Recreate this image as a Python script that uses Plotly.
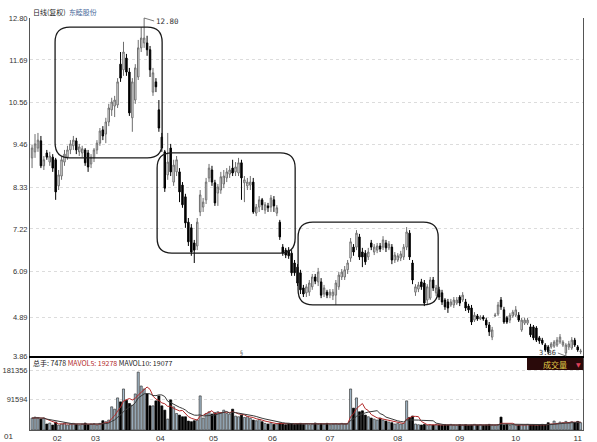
import plotly.graph_objects as go
import pandas as pd

# ---------------- data ----------------
open_ = [9.10, 9.26, 9.36, 9.55, 8.89, 9.23, 8.99, 9.12, 9.05, 8.36,
         8.62, 8.99, 9.12, 9.31, 9.42, 9.55, 9.26, 9.23, 9.31, 9.23,
         8.94, 9.10, 9.31, 9.49, 9.84, 9.73, 10.05, 10.37, 10.47, 10.50,
         11.58, 11.43, 11.74, 11.37, 10.16, 10.63, 11.24, 12.01, 12.14, 12.14,
         11.96, 10.84, 11.11, 10.37, 9.65, 9.26, 8.65, 9.36, 8.46, 8.73,
         8.73, 8.38, 8.07, 7.40, 7.25, 6.85, 6.77, 7.67, 7.80, 7.99,
         8.57, 8.78, 8.44, 8.17, 8.25, 8.41, 8.57, 8.67, 8.83, 8.73,
         8.70, 8.97, 8.44, 8.36, 8.38, 8.46, 7.64, 7.80, 7.99, 7.72,
         7.83, 7.80, 7.99, 7.64, 7.40, 6.74, 6.66, 6.66, 6.58, 6.32,
         6.21, 6.06, 5.66, 5.53, 5.55, 5.69, 5.95, 5.82, 5.82, 5.50,
         5.55, 5.47, 5.45, 5.47, 5.69, 5.95, 5.95, 6.14, 6.45, 6.74,
         6.74, 7.01, 6.61, 6.58, 6.48, 6.85, 6.61, 6.66, 6.77, 6.74,
         6.85, 6.72, 6.74, 6.40, 6.40, 6.45, 6.48, 6.74, 7.11, 6.32,
         5.55, 5.63, 5.82, 5.79, 5.34, 5.39, 5.87, 5.53, 5.61, 5.53,
         5.34, 5.29, 5.21, 5.21, 5.26, 5.42, 5.34, 5.29, 5.18, 5.13,
         4.81, 4.92, 4.84, 4.89, 4.81, 4.68, 4.36, 4.92, 4.97, 5.34,
         5.08, 4.87, 4.81, 4.92, 4.94, 4.94, 4.55, 4.73, 4.73, 4.63,
         4.63, 4.60, 4.34, 4.28, 4.15, 4.10, 4.10, 4.12, 4.15, 4.23,
         4.15, 3.94, 4.10, 4.07, 4.28, 4.10, 3.97]
high = [9.44, 9.73, 9.76, 9.68, 9.15, 9.31, 9.26, 9.20, 9.10, 8.78,
        9.15, 9.31, 9.42, 9.57, 9.68, 9.63, 9.47, 9.42, 9.36, 9.31,
        9.20, 9.36, 9.57, 9.89, 9.94, 10.16, 10.53, 10.69, 10.74, 11.21,
        11.90, 12.17, 11.85, 11.48, 11.21, 11.58, 12.22, 12.56, 12.80, 12.33,
        12.06, 11.48, 11.21, 10.63, 9.76, 9.31, 9.76, 9.47, 9.05, 9.15,
        8.83, 8.46, 8.15, 7.51, 7.35, 6.93, 7.51, 8.25, 8.04, 8.57,
        8.94, 8.89, 8.52, 8.41, 8.73, 8.78, 8.83, 8.89, 9.05, 8.99,
        9.10, 9.05, 8.62, 8.57, 8.62, 8.57, 7.88, 8.09, 8.04, 7.93,
        7.91, 8.12, 8.09, 7.85, 7.46, 6.82, 6.72, 6.74, 6.66, 6.40,
        6.29, 6.14, 5.74, 5.76, 5.87, 6.03, 6.03, 6.19, 5.92, 5.74,
        5.61, 5.63, 5.63, 5.87, 6.08, 6.16, 6.24, 6.40, 6.98, 6.82,
        7.19, 7.09, 6.72, 6.66, 6.72, 6.93, 6.82, 6.85, 6.85, 7.03,
        6.93, 6.90, 6.82, 6.61, 6.58, 6.64, 6.82, 7.27, 7.19, 6.40,
        5.76, 5.82, 5.90, 5.87, 5.76, 5.95, 5.95, 5.74, 5.69, 5.61,
        5.39, 5.37, 5.37, 5.42, 5.42, 5.47, 5.55, 5.37, 5.24, 5.21,
        5.02, 4.97, 4.94, 4.94, 4.87, 4.76, 4.63, 5.00, 5.29, 5.42,
        5.16, 4.92, 5.00, 5.08, 5.18, 5.02, 4.87, 4.87, 4.87, 4.71,
        4.68, 4.65, 4.39, 4.34, 4.20, 4.15, 4.23, 4.28, 4.36, 4.44,
        4.28, 4.20, 4.26, 4.36, 4.34, 4.15, 4.05]
low = [8.83, 9.10, 9.26, 8.83, 8.78, 9.05, 8.89, 8.73, 7.99, 8.25,
       8.52, 8.89, 9.05, 9.20, 9.31, 9.20, 9.15, 9.12, 8.89, 8.73,
       8.83, 8.99, 9.20, 9.42, 9.57, 9.49, 9.94, 10.21, 10.18, 10.42,
       11.11, 11.27, 11.27, 10.21, 9.79, 10.53, 11.16, 11.90, 12.01, 11.80,
       11.24, 10.74, 10.84, 9.79, 9.26, 8.20, 8.52, 8.62, 8.36, 8.62,
       7.93, 7.78, 7.25, 6.77, 6.51, 6.32, 6.66, 7.56, 7.67, 7.88,
       8.46, 8.36, 7.83, 7.83, 8.15, 8.30, 8.46, 8.57, 8.62, 8.62,
       8.62, 7.99, 7.93, 8.25, 8.25, 7.62, 7.56, 7.67, 7.72, 7.62,
       7.67, 7.67, 7.67, 7.56, 6.93, 6.51, 6.45, 6.43, 5.98, 5.98,
       5.71, 5.50, 5.42, 5.42, 5.45, 5.61, 5.76, 5.71, 5.39, 5.42,
       5.39, 5.39, 5.34, 5.21, 5.61, 5.87, 5.87, 6.03, 6.35, 6.51,
       6.66, 6.40, 6.21, 6.27, 6.40, 6.66, 6.53, 6.58, 6.61, 6.66,
       6.61, 6.66, 6.29, 6.32, 6.35, 6.37, 6.40, 6.66, 6.40, 5.76,
       5.45, 5.55, 5.61, 5.18, 5.21, 5.34, 5.58, 5.45, 5.34, 5.21,
       5.08, 5.00, 5.16, 5.13, 5.21, 5.18, 5.29, 5.05, 5.00, 4.68,
       4.76, 4.79, 4.81, 4.79, 4.60, 4.39, 4.28, 4.89, 4.92, 5.08,
       4.71, 4.71, 4.73, 4.87, 4.89, 4.76, 4.50, 4.68, 4.68, 4.36,
       4.28, 4.23, 4.18, 4.15, 3.97, 3.91, 4.05, 4.07, 4.10, 4.18,
       4.10, 3.86, 4.02, 4.02, 4.10, 3.97, 3.91]
close = [9.36, 9.47, 9.57, 8.89, 9.05, 9.12, 9.15, 8.83, 8.20, 8.65,
         9.05, 9.20, 9.31, 9.47, 9.57, 9.31, 9.39, 9.34, 8.97, 8.86,
         9.12, 9.31, 9.49, 9.81, 9.68, 10.05, 10.42, 10.58, 10.63, 11.11,
         11.21, 11.90, 11.37, 10.29, 11.11, 11.48, 12.01, 12.27, 12.27, 11.96,
         11.43, 11.35, 10.98, 9.89, 9.36, 8.30, 8.99, 8.73, 8.91, 9.05,
         8.20, 7.86, 7.38, 6.88, 6.61, 6.66, 7.40, 8.12, 7.93, 8.46,
         8.83, 8.46, 7.91, 8.33, 8.60, 8.62, 8.73, 8.78, 8.70, 8.86,
         8.97, 8.57, 8.52, 8.46, 8.46, 7.67, 7.80, 7.99, 7.86, 7.86,
         7.78, 8.04, 7.83, 7.78, 7.01, 6.58, 6.53, 6.51, 6.06, 6.06,
         5.79, 5.61, 5.50, 5.69, 5.79, 5.95, 5.84, 6.08, 5.47, 5.66,
         5.47, 5.55, 5.55, 5.79, 6.00, 6.08, 6.14, 6.32, 6.88, 6.61,
         7.11, 6.48, 6.48, 6.35, 6.61, 6.74, 6.74, 6.77, 6.69, 6.93,
         6.72, 6.82, 6.40, 6.53, 6.51, 6.56, 6.74, 7.14, 6.48, 5.87,
         5.69, 5.74, 5.69, 5.26, 5.69, 5.87, 5.66, 5.66, 5.42, 5.29,
         5.16, 5.13, 5.29, 5.34, 5.34, 5.26, 5.47, 5.13, 5.08, 4.76,
         4.94, 4.84, 4.89, 4.84, 4.68, 4.50, 4.55, 4.94, 5.21, 5.16,
         4.76, 4.76, 4.94, 5.02, 5.08, 4.81, 4.81, 4.81, 4.81, 4.42,
         4.34, 4.28, 4.26, 4.20, 4.02, 3.97, 4.18, 4.23, 4.28, 4.36,
         4.23, 4.15, 4.18, 4.28, 4.15, 4.02, 3.99]
volume = [36000, 39000, 36000, 33000, 36000,
          18000, 21000, 15000, 24000,
          15000, 18000, 21000, 15000, 18000, 20000, 17000, 15000, 18000, 21000,
          16000, 18000, 19000, 15000, 20000,
          28000, 25000, 30000,
          70000, 63000, 97000, 85000, 124000, 90000, 80000, 75000, 109000, 175000,
          133000, 124000, 109000, 73000, 73000, 88000, 103000, 73000, 60000, 33000,
          91000, 70000, 50000, 45000, 40000, 40000, 27000, 25000, 28000, 30000,
          103000, 36000, 50000, 55000, 48000, 52000, 55000, 52000, 60000, 50000,
          48000, 63000, 42000, 40000, 45000, 38000, 40000, 35000, 30000, 28000,
          32000, 25000, 20000, 18000, 22000, 17000, 19000, 21000, 18000, 16000,
          20000, 19000, 17000, 18000, 20000, 17000, 19000, 16000, 18000, 21000,
          17000, 19000, 18000, 20000, 16000, 18000, 19000, 17000, 20000, 18000, 19000,
          124000, 66000, 97000, 55000, 58000, 45000, 40000, 36000, 33000, 30000,
          36000, 30000, 27000, 24000, 22000, 18000, 20000, 18000, 20000,
          88000, 38000, 42000, 18000, 16000, 15000, 17000, 14000, 16000, 15000,
          17000, 15000, 14000, 16000, 15000, 17000, 15000, 14000, 16000, 15000,
          16000, 14000, 15000, 17000, 15000, 16000, 14000, 15000, 17000, 15000,
          14000, 16000, 39000, 15000, 17000, 14000, 16000, 15000, 14000, 16000,
          15000, 17000, 15000, 16000, 14000, 15000, 17000, 16000, 22000, 18000,
          27000, 20000, 24000, 22000, 26000, 21000, 25000, 23000, 26000, 22000]

price_ticks = [3.86, 4.89, 6.09, 7.22, 8.33, 9.46, 10.56, 11.69, 12.80]
vol_ticks = [91594, 181356]
month_pos = [8.5, 21.5, 43.5, 61.5, 81.5, 101, 124, 145, 164, 185]
month_labels = ["02", "03", "04", "05", "06", "07", "08", "09", "10", "11"]
# highlighted regions: (x from, x to, price low, price high)
boxes = [(7.8, 44.1, 9.10, 12.56), (42.4, 89.2, 6.58, 9.23), (90.2, 137.7, 5.21, 7.40)]
peak_idx, low_idx = 38, 181

# ---------------- figure ----------------
n = len(close)
idx = list(range(n))
vol_s = pd.Series(volume, dtype=float)
ma5 = vol_s.rolling(5, min_periods=1).mean()
ma10 = vol_s.rolling(10, min_periods=1).mean()
up = [c >= o for o, c in zip(open_, close)]
bar_fill = ["#a3b9c9" if u else "#000000" for u in up]
bar_line = ["#3a3a3a" if u else "#000000" for u in up]

fig = go.Figure()
fig.add_trace(go.Candlestick(
    x=idx, open=open_, high=high, low=low, close=close,
    increasing=dict(line=dict(color="#6e6e6e", width=1), fillcolor="#ffffff"),
    decreasing=dict(line=dict(color="#000000", width=1), fillcolor="#000000"),
    whiskerwidth=0, xaxis="x", yaxis="y", hoverinfo="skip"))
fig.add_trace(go.Bar(x=idx, y=volume, width=0.7,
                     marker=dict(color=bar_fill, line=dict(color=bar_line, width=0.7)),
                     xaxis="x2", yaxis="y2", hoverinfo="skip"))
fig.add_trace(go.Scatter(x=idx, y=ma5, mode="lines", line=dict(color="#b22a2a", width=1),
                         xaxis="x2", yaxis="y2", hoverinfo="skip"))
fig.add_trace(go.Scatter(x=idx, y=ma10, mode="lines", line=dict(color="#3a3a3a", width=1),
                         xaxis="x2", yaxis="y2", hoverinfo="skip"))

PLOT_TOP, PLOT_BOT = 18, 430
H = PLOT_BOT - PLOT_TOP
def py(pix):
    return (PLOT_BOT - pix) / H
def px(pix):
    return (pix - 30) / 553

tickfont = dict(family="Liberation Sans, Arial, sans-serif", size=7.5, color="#333333")
grid_col = "#dcdcdc"

fig.update_layout(
    width=597, height=442,
    margin=dict(l=30, r=14, t=PLOT_TOP, b=442 - PLOT_BOT),
    paper_bgcolor="white", plot_bgcolor="white", showlegend=False,
    bargap=0.3,
    xaxis=dict(domain=[0, 1], anchor="y", range=[-0.7, n - 0.2],
               showticklabels=False, showgrid=False, zeroline=False,
               showline=True, linecolor="#000000", linewidth=1.5,
               rangeslider=dict(visible=False), ticks=""),
    yaxis=dict(domain=[py(356), 1], range=[3.86, 12.80], tickvals=price_ticks,
               ticktext=[f"{v:.2f}" for v in price_ticks], tickfont=tickfont,
               showgrid=True, gridcolor=grid_col, griddash="dot", gridwidth=1,
               zeroline=False, showline=True, linecolor="#555555", mirror=True,
               ticks="", automargin=False),
    xaxis2=dict(domain=[0, 1], anchor="y2", matches="x", range=[-0.7, n - 0.2],
                tickvals=month_pos, ticktext=month_labels,
                tickfont=dict(family="Liberation Sans, Arial, sans-serif", size=8, color="#333333"),
                showgrid=False, zeroline=False, showline=True, linecolor="#555555",
                ticks="", automargin=False),
    yaxis2=dict(domain=[0, py(358)], range=[0, 181356 * (PLOT_BOT - 358) / 60],
                tickvals=vol_ticks, ticktext=[str(v) for v in vol_ticks], tickfont=tickfont,
                showgrid=True, gridcolor=grid_col, griddash="dot",
                zeroline=False, showline=True, linecolor="#555555", mirror=True,
                ticks="", automargin=False),
)

def rrect(x0, x1, y0, y1, rx=5.0, ry=0.40):
    return (f"M {x0+rx},{y1} L {x1-rx},{y1} Q {x1},{y1} {x1},{y1-ry} "
            f"L {x1},{y0+ry} Q {x1},{y0} {x1-rx},{y0} L {x0+rx},{y0} "
            f"Q {x0},{y0} {x0},{y0+ry} L {x0},{y1-ry} Q {x0},{y1} {x0+rx},{y1} Z")

shapes = []
for (x0, x1, y0, y1) in boxes:
    shapes.append(dict(type="path", xref="x", yref="y", path=rrect(x0, x1, y0, y1),
                       line=dict(color="#1a1a1a", width=1.3), fillcolor="rgba(0,0,0,0)"))
shapes.append(dict(type="rect", xref="paper", yref="paper",
                   x0=px(527), x1=1.0, y0=py(370), y1=py(358),
                   fillcolor="#2a0a0a", line=dict(width=0)))
fig.update_layout(shapes=shapes)

cjk = "Noto Sans CJK SC"
ann = [
    dict(xref="paper", yref="paper", x=px(31), y=py(12), xanchor="left", yanchor="middle",
         text='日线(复权)  <span style="color:#4a6a9a">东睦股份</span>',
         showarrow=False, font=dict(family=cjk, size=7, color="#222222")),
    dict(xref="paper", yref="paper", x=px(31), y=py(363), xanchor="left", yanchor="middle",
         text='总手: 7478 <span style="color:#b22a2a">MAVOL5: 19278</span> MAVOL10: 19077',
         showarrow=False, font=dict(family=cjk, size=7, color="#222222")),
    dict(xref="paper", yref="paper", x=px(555), y=py(364), xanchor="center", yanchor="middle",
         text="成交量", showarrow=False, font=dict(family=cjk, size=8, color="#e4cf48")),
    dict(xref="paper", yref="paper", x=px(578), y=py(364), xanchor="center", yanchor="middle",
         text="▼", showarrow=False, font=dict(family="DejaVu Sans", size=6, color="#e0405a")),
    dict(xref="paper", yref="paper", x=px(8), y=py(436), xanchor="center", yanchor="middle",
         text="01", showarrow=False,
         font=dict(family="Liberation Sans, Arial, sans-serif", size=8, color="#333333")),
    dict(xref="x", yref="y", x=peak_idx, y=high[peak_idx], text="12.80",
         showarrow=True, arrowhead=0, arrowwidth=0.8, arrowcolor="#555555",
         ax=10, ay=3, xanchor="left", yanchor="middle",
         font=dict(family="DejaVu Sans Mono", size=7.5, color="#333333")),
    dict(xref="x", yref="y", x=low_idx, y=low[low_idx], text="3.86",
         showarrow=True, arrowhead=0, arrowwidth=0.8, arrowcolor="#555555",
         ax=-8, ay=-3, xanchor="right", yanchor="middle",
         font=dict(family="DejaVu Sans Mono", size=7, color="#333333")),
    dict(xref="x", yref="y", x=71, y=3.96, text="§", showarrow=False,
         font=dict(family="DejaVu Sans", size=6, color="#555555")),
]
fig.update_layout(annotations=ann)

fig.write_html("out.html")
